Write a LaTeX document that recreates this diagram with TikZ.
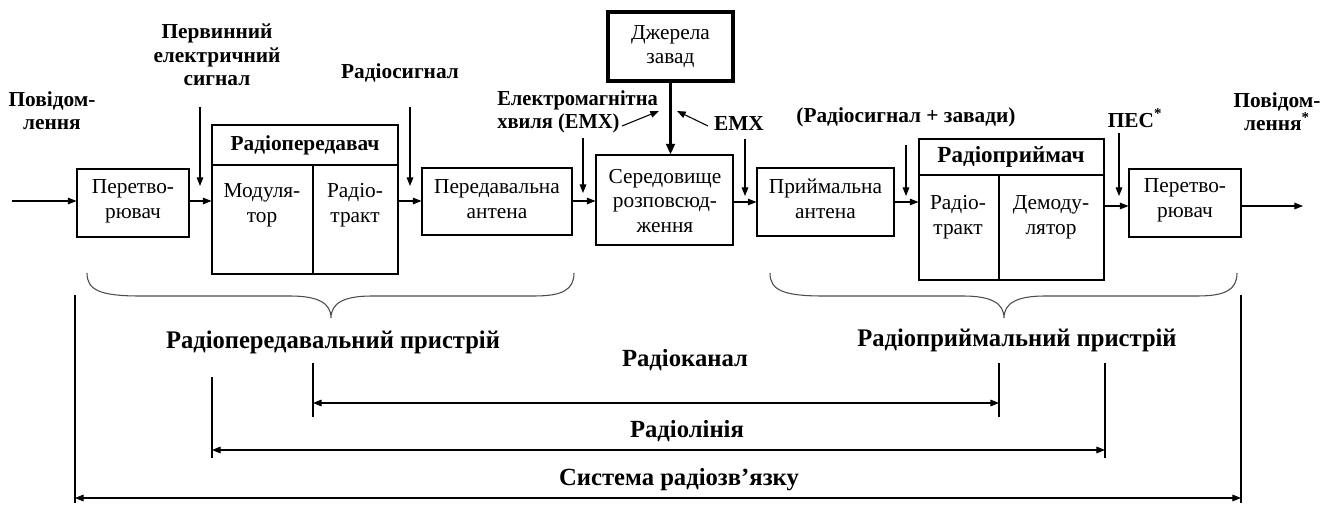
\documentclass[tikz,border=0pt]{standalone}
\usepackage{fontspec}
\setmainfont{Liberation Serif}
\newfontfamily\condfam{Liberation Serif}[FakeStretch=0.97]
\newfontfamily\emfam{Liberation Serif}[FakeStretch=0.96]
\usetikzlibrary{arrows.meta,fit}
\newcommand\nf{\fontsize{16pt}{18.5pt}\selectfont}
\newcommand\bfl{\fontsize{16pt}{17.5pt}\selectfont\bfseries}
\newcommand\bfe{\fontsize{16pt}{17.5pt}\selectfont\emfam\bfseries}
\newcommand\bfw{\fontsize{17.3pt}{19pt}\selectfont\bfseries}
\newcommand\bigf{\fontsize{18.5pt}{21pt}\selectfont\bfseries}
\newcommand\bigc{\fontsize{19pt}{22pt}\selectfont\condfam\bfseries}
\begin{document}
\begin{tikzpicture}[x=0.75pt,y=-0.75pt,
  blk/.style={draw, line width=0.8pt, inner sep=0pt, align=center, font=\nf},
  thick blk/.style={blk, line width=2.6pt},
  txt/.style={align=center, font=\nf, inner sep=0pt},
  lbl/.style={align=center, font=\bfl, inner sep=0pt},
  big/.style={font=\bigf, inner sep=0pt},
  bigcond/.style={font=\bigc, inner sep=0pt},
  ln/.style={line width=0.8pt},
  arr/.style={-{Triangle[length=6.5pt,width=5pt]}, line width=0.8pt},
  darr/.style={{Triangle[length=6.5pt,width=5pt]}-{Triangle[length=6.5pt,width=5pt]}, line width=0.8pt},
  brc/.style={line width=0.8pt, draw=black!70}]
\useasboundingbox (0,0) rectangle (1336,506);

% ---------- blocks ----------
\node[blk, fit={(77,169) (189,237)}] (conv1) {};
\node[txt] (conv1t) at (133,201) {Перетво-\\рювач};

\node[blk, fit={(212,125) (398,274)}] (tx) {};
\coordinate (txh) at (212,165);
\coordinate (txd) at (313,165);
\node[lbl] (txtitle) at (305,145) {Радіопередавач};
\node[txt] (mod) at (262,205) {Модуля-\\тор};
\node[txt] (rtr1) at (355,205) {Радіо-\\тракт};

\node[blk, fit={(422,168) (572,235)}] (ant1) {};
\node[txt] (ant1t) at (497,199) {Передавальна\\антена};

\node[blk, fit={(596,155) (733,245)}] (med) {};
\node[txt] (medt) at (665,201) {Середовище\\розповсюд-\\ження};

\node[thick blk, fit={(608,12) (733,81)}] (noise) {};
\node[txt] (noiset) at (670.5,46.5) {Джерела\\завад};

\node[blk, fit={(757,168) (894,236)}] (ant2) {};
\node[txt] (ant2t) at (825.5,198.5) {Приймальна\\антена};

\node[blk, fit={(919,139) (1104,280)}] (rx) {};
\coordinate (rxh) at (919,175);
\coordinate (rxd) at (999,175);
\node[lbl, font=\bfw] (rxtitle) at (1011,157) {Радіоприймач};
\node[txt] (rtr2) at (958,217.5) {Радіо-\\тракт};
\node[txt] (dem) at (1051,217.5) {Демоду-\\лятор};

\node[blk, fit={(1129,169) (1241,237)}] (conv2) {};
\node[txt] (conv2t) at (1185,200.5) {Перетво-\\рювач};

% inner dividers
\draw[ln] (txh) -- (tx.east |- txh);
\draw[ln] (txd) -- (tx.south -| txd);
\draw[ln] (rxh) -- (rx.east |- rxh);
\draw[ln] (rxd) -- (rx.south -| rxd);

% ---------- main chain ----------
\coordinate (in) at (12,201);
\coordinate (out) at (1303,206);
\draw[arr] (in) -- (conv1.west |- in);
\draw[arr] (conv1.east |- 0,201) -- (tx.west |- 0,201);
\draw[arr] (tx.east |- 0,201) -- (ant1.west |- 0,201);
\draw[arr] (ant1.east |- 0,201) -- (med.west |- 0,201);
\draw[arr] (med.east |- 0,202) -- (ant2.west |- 0,202);
\draw[arr] (ant2.east |- 0,202) -- (rx.west |- 0,202);
\draw[arr] (rx.east |- 0,206) -- (conv2.west |- 0,206);
\draw[arr] (conv2.east |- out) -- (out);
\draw[-{Triangle[length=8pt,width=6.5pt]}, line width=2.4pt] (noise.south) -- (noise.south |- med.north);

% ---------- signal markers ----------
\coordinate (s1a) at (200,107); \coordinate (s1b) at (200,186);
\coordinate (s2a) at (410,107); \coordinate (s2b) at (410,186);
\coordinate (s3a) at (583,138); \coordinate (s3b) at (583,193);
\coordinate (s4a) at (745,139); \coordinate (s4b) at (745,196);
\coordinate (s5a) at (906,145); \coordinate (s5b) at (906,196);
\coordinate (s6a) at (1119,133); \coordinate (s6b) at (1119,196);
\foreach \i in {1,...,6} {\draw[arr] (s\i a) -- (s\i b);}
\coordinate (e1a) at (622,126); \coordinate (e1b) at (659,111);
\coordinate (e2a) at (708,126); \coordinate (e2b) at (677,111);
\draw[arr] (e1a) -- (e1b);
\draw[arr] (e2a) -- (e2b);

% ---------- labels ----------
\node[lbl] (msg1) at (52,111) {Повідом-\\лення};
\node[lbl] (pes) at (217,55) {Первинний\\електричний\\сигнал};
\node[lbl] (rs) at (400,73) {Радіосигнал};
\node[lbl, font=\bfe, align=left, anchor=west] (emw) at (497,112) {Електромагнітна\\хвиля (ЕМХ)};
\node[lbl] (emx) at (739,124) {ЕМХ};
\node[lbl] (rsz) at (906,117) {(Радіосигнал + завади)};
\node[lbl] (pes2) at (1135,118) {ПЕС\textsuperscript{*}};
\node[lbl] (msg2) at (1277,112) {Повідом-\\лення\textsuperscript{*}};

% ---------- braces ----------
\draw[brc] (87,273) .. controls (87,290) and (100,296) .. (140,296) -- (290,296)
  .. controls (318,296) and (331,303) .. (331,318)
  .. controls (331,303) and (344,296) .. (372,296) -- (534,296)
  .. controls (562,296) and (574,290) .. (574,273);
\draw[brc] (770,273) .. controls (770,290) and (783,296) .. (823,296) -- (963,296)
  .. controls (991,296) and (1004,303) .. (1004,318)
  .. controls (1004,303) and (1017,296) .. (1045,296) -- (1197,296)
  .. controls (1225,296) and (1237,290) .. (1237,273);
\node[bigcond] (txdev) at (333,342) {Радіопередавальний пристрій};
\node[bigcond] (rxdev) at (1017,340) {Радіоприймальний пристрій};

% ---------- spans ----------
\coordinate (v1a) at (75,295);  \coordinate (v1b) at (75,503);
\coordinate (v2a) at (1241,295);\coordinate (v2b) at (1241,503);
\coordinate (v3a) at (212,377); \coordinate (v3b) at (212,458);
\coordinate (v4a) at (1105,363);\coordinate (v4b) at (1105,458);
\coordinate (v5a) at (313,363); \coordinate (v5b) at (313,417);
\coordinate (v6a) at (999,363); \coordinate (v6b) at (999,417);
\foreach \i in {1,...,6} {\draw[ln] (v\i a) -- (v\i b);}
\draw[darr] (v5a |- 0,403) -- (v6a |- 0,403);
\draw[darr] (v3a |- 0,450) -- (v4a |- 0,450);
\draw[darr] (v1a |- 0,498) -- (v2a |- 0,498);
\node[big] (chan) at (685,360) {Радіоканал};
\node[big] (line) at (687,431) {Радіолінія};
\node[big] (sys) at (679,480) {Система радіозв’язку};
\end{tikzpicture}
\end{document}
